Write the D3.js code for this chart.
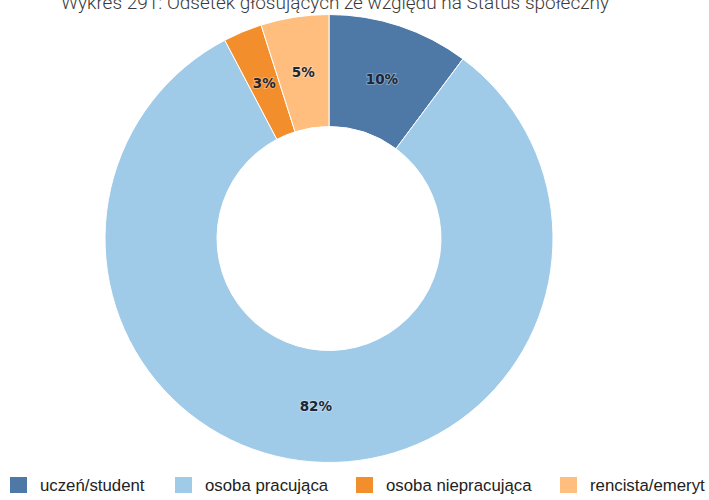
<!DOCTYPE html>
<html>
<head>
<meta charset="utf-8">
<script src="https://cdn.jsdelivr.net/npm/d3@7"></script>
<style>
  html, body { margin: 0; padding: 0; background: #fff; }
  svg { display: block; }
</style>
</head>
<body>
<svg id="chart" width="709" height="500"></svg>
<script>
const title = "Wykres 291: Odsetek głosujących ze względu na Status społeczny";
const categories = ["uczeń/student", "osoba pracująca", "osoba niepracująca", "rencista/emeryt"];
const values = [10.2, 82.1, 2.8, 4.9];
const colors = ["#4e79a7", "#a0cbe8", "#f28e2b", "#ffbe7d"];

const svg = d3.select("#chart");
const cx = 329, cy = 238.5, rOuter = 224, rInner = 112;

svg.append("text")
  .attr("x", 335).attr("y", 9)
  .attr("text-anchor", "middle")
  .attr("font-family", "Roboto")
  .attr("font-weight", 300)
  .attr("font-size", 19)
  .attr("fill", "#3a3a3a")
  .text(title);

const data = categories.map((c, i) => ({ cat: c, value: values[i], color: colors[i] }));
const total = d3.sum(values);

const pie = d3.pie().value(d => d.value).sort(null);
const arc = d3.arc().innerRadius(rInner).outerRadius(rOuter);
const arcs = pie(data);

const g = svg.append("g").attr("transform", `translate(${cx},${cy})`);
g.selectAll("path").data(arcs).enter().append("path")
  .attr("d", arc)
  .attr("fill", d => d.data.color)
  .attr("stroke", "#fff")
  .attr("stroke-width", 1);

g.selectAll("text.lbl").data(arcs).enter().append("text")
  .attr("class", "lbl")
  .attr("transform", d => `translate(${arc.centroid(d)})`)
  .attr("text-anchor", "middle")
  .attr("dy", "0.36em")
  .attr("font-family", "DejaVu Sans, sans-serif")
  .attr("font-weight", "bold")
  .attr("font-size", 13.5)
  .attr("fill", "#1c2636")
  .attr("stroke", "rgba(255,255,255,0.3)")
  .attr("stroke-width", 2)
  .attr("paint-order", "stroke")
  .text(d => Math.round(d.data.value / total * 100) + "%");

const legendX = [10, 175, 356, 560];
const leg = svg.append("g");
data.forEach((d, i) => {
  const lg = leg.append("g").attr("transform", `translate(${legendX[i]},477)`);
  lg.append("rect").attr("width", 17).attr("height", 16).attr("fill", d.color);
  lg.append("text")
    .attr("x", 30).attr("y", 14)
    .attr("font-family", "Liberation Sans, Arial, sans-serif")
    .attr("font-size", 16.8)
    .attr("fill", "#222")
    .text(d.cat);
});
</script>
</body>
</html>
